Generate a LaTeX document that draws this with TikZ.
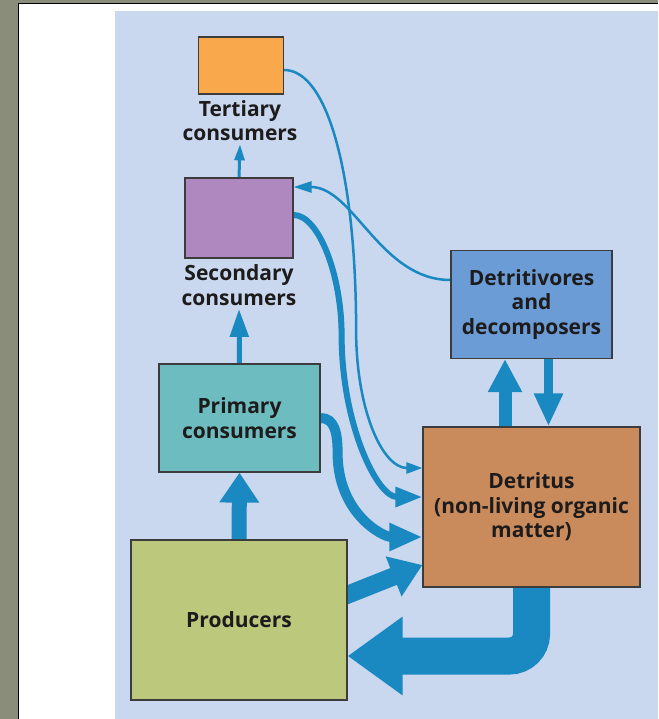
\documentclass[tikz,border=0pt]{standalone}
\usepackage{fontspec}
\setmainfont{Open Sans}
\usepackage{tikz}
\usetikzlibrary{arrows.meta, positioning}
\definecolor{FrameGray}{HTML}{8B8D7B}
\definecolor{PanelBlue}{HTML}{C9D8EE}
\definecolor{FlowBlue}{HTML}{1A88C1}
\definecolor{EdgeGray}{HTML}{3C3C3C}
\definecolor{InkDark}{HTML}{1E1B1C}
\definecolor{TertOrange}{HTML}{F9A84B}
\definecolor{SecPurple}{HTML}{AE88BF}
\definecolor{PrimTeal}{HTML}{6DBDC0}
\definecolor{ProdGreen}{HTML}{BCC97D}
\definecolor{DetrBrown}{HTML}{C98B5B}
\definecolor{DecompBlue}{HTML}{6B9CD6}
\pgfdeclarelayer{panel}
\pgfdeclarelayer{flows}
\pgfsetlayers{panel,flows,main}

\begin{document}
\begin{tikzpicture}[x=1pt, y=-1pt,
        every node/.style={font=\bfseries\fontsize{21}{24.5}\selectfont, text=InkDark, align=center},
        level/.style={draw=EdgeGray, line width=1.2pt, inner sep=0pt},
        flow/.style n args={3}{draw=FlowBlue, line width=#1, -{Triangle[length=#2, width=#3]}}]
            \useasboundingbox (0,0) rectangle (658,719);
            % frame and panel
            \begin{pgfonlayer}{panel}
                \fill[FrameGray] (0,0) rectangle (658,719);
                \fill[white] (18,4) rectangle (658,719);
                \draw[black, line width=1pt] (18,719) -- (18,4) -- (658,4);
                \fill[PanelBlue] (115,11) rectangle (658,719);
            \end{pgfonlayer}

            % trophic levels
            \node[level, fill=TertOrange, minimum width=85pt, minimum height=57pt] (tert) at (241,65.5) {};
            \node (tertlbl) at (240,120.5) {Tertiary\\consumers};
            \node[level, fill=SecPurple, minimum width=108pt, minimum height=80pt] (sec) at (239,218) {};
            \node (seclbl) at (239,285) {Secondary\\consumers};
            \node[level, fill=PrimTeal, minimum width=161pt, minimum height=108pt] (prim) at (239.5,418) {Primary\\consumers};
            \node[level, fill=ProdGreen, minimum width=216pt, minimum height=160pt] (prod) at (239,620) {Producers};
            \node[level, fill=DetrBrown, minimum width=217pt, minimum height=160pt] (detr) at (531.5,507) {Detritus\\(non-living organic\\matter)};
            \node[level, fill=DecompBlue, minimum width=161pt, minimum height=108pt] (dec) at (531.5,304.5) {Detritivores\\and\\decomposers};

            \begin{pgfonlayer}{flows}
                % energy up the chain
                \draw[flow={3pt}{16pt}{10pt}] (sec.north) -- (tertlbl.south);
                \draw[flow={5pt}{28pt}{18pt}] (prim.north) -- (seclbl.south);
                \draw[flow={15pt}{30pt}{38pt}] (prod.north) -- (prim.south);

                % into detritus
                \draw[flow={2.5pt}{16pt}{11pt}] ([yshift=-4.5pt]tert.east)
                    to[out=0, in=90, out distance=45pt, in distance=150pt] ++(72,260)
                    to[out=-90, in=180, out distance=80pt, in distance=40pt] ([yshift=39pt]detr.west);
                \draw[flow={6pt}{27pt}{19pt}] ([yshift=3pt]sec.east)
                    to[out=0, in=90, out distance=25pt, in distance=60pt] ++(48,120)
                    to[out=-90, in=180, out distance=90pt, in distance=45pt] ([yshift=10pt]detr.west);
                \draw[flow={10pt}{33pt}{26pt}] (prim.east)
                    to[out=0, in=90, out distance=14pt, in distance=20pt] ++(17,35)
                    to[out=-90, in=180, out distance=60pt, in distance=40pt] ([yshift=-30pt]detr.west);
                \draw[flow={18pt}{31pt}{41pt}] ([xshift=-12pt, yshift=20.5pt]prod.east) -- ([yshift=-58pt]detr.west);

                % exchange with decomposers
                \draw[flow={13pt}{33pt}{32pt}] ([xshift=-26.5pt]detr.north) -- ([xshift=-26.5pt]dec.south);
                \draw[flow={9pt}{33pt}{27pt}] ([xshift=17pt]dec.south) -- ([xshift=17pt]detr.north);
                \draw[flow={2.5pt}{18pt}{11pt}] ([yshift=24.5pt]dec.west)
                    to[out=180, in=0, out distance=70pt, in distance=60pt] ([yshift=31pt]sec.east);

                % nutrients back to producers
                \draw[flow={37pt}{55pt}{75pt}, rounded corners=22pt] (detr.south) |- ([yshift=-36pt]prod.east);
            \end{pgfonlayer}
        \end{tikzpicture}
\end{document}
